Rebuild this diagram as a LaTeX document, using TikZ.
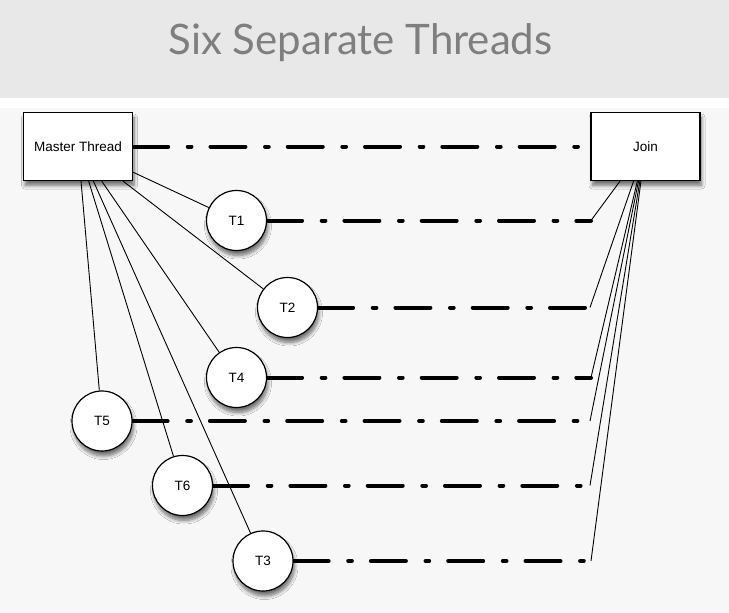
\documentclass[tikz,border=0pt]{standalone}
\usepackage{fontspec}
\setmainfont{Liberation Sans}
\newfontfamily\titlefont{Lato}
\usetikzlibrary{shadows.blur,backgrounds}
\definecolor{bandgray}{HTML}{E8E8E8}
\definecolor{bggray}{HTML}{F7F7F7}
\definecolor{titlegray}{HTML}{7F7F7F}
\begin{document}
\begin{tikzpicture}[x=1pt,y=-1pt,
  softshadow/.style={blur shadow={shadow xshift=1.5pt, shadow yshift=-5pt, shadow opacity=55, shadow blur steps=8, shadow blur radius=3.5pt}},
  box/.style={draw=black, line width=1.3pt, fill=white, minimum width=109pt, minimum height=68pt, inner sep=0pt, font=\fontsize{13.5}{15}\selectfont, softshadow},
  thread/.style={circle, draw=black, line width=1.2pt, fill=white, minimum size=60pt, inner sep=0pt, font=\fontsize{13.5}{15}\selectfont, softshadow},
  link/.style={line width=0.9pt},
  flow/.style={line width=4pt, line cap=round, dash pattern=on 35pt off 19.6pt on 3.7pt off 19pt}
]
\useasboundingbox (0,0) rectangle (729,613);

\node[font=\titlefont\fontsize{42}{48}\selectfont, text=titlegray, anchor=base] (title) at (360.5,54) {Six Separate Threads};

\node[box] (master) at (78,146.5) {Master Thread};
\node[box] (join) at (645.5,146.5) {Join};

\node[thread] (t1) at (236.5,220.5) {T1};
\node[thread] (t2) at (287.5,307.5) {T2};
\node[thread] (t4) at (236.5,377.5) {T4};
\node[thread] (t5) at (102,421) {T5};
\node[thread] (t6) at (182.5,485.5) {T6};
\node[thread] (t3) at (263,561) {T3};

\coordinate (e1) at (591,220.5);
\coordinate (e2) at (590,307.5);
\coordinate (e4) at (591,377.5);
\coordinate (e5) at (590,421);
\coordinate (e6) at (590,485.5);
\coordinate (e3) at (591,561);

\begin{scope}[on background layer]
\fill[bandgray] (0,0) rectangle (729,98);
\fill[white] (0,98) rectangle (729,108);
\fill[bggray] (0,108) rectangle (729,613);

\draw[flow] (master) -- (join);
\draw[flow] (t1) -- (e1);
\draw[flow] (t2) -- (e2);
\draw[flow] (t4) -- (e4);
\draw[flow] (t5) -- (e5);
\draw[flow] (t6) -- (e6);
\draw[flow] (t3) -- (e3);

\draw[link] (master) -- (t1);
\draw[link] (master) -- (t2);
\draw[link] (master) -- (t4);
\draw[link] (master) -- (t5);
\draw[link] (master) -- (t6);
\draw[link] (master) -- (t3);

\draw[link] (e1) -- (join);
\draw[link] (e2) -- (join);
\draw[link] (e4) -- (join);
\draw[link] (e5) -- (join);
\draw[link] (e6) -- (join);
\draw[link] (e3) -- (join);
\end{scope}
\end{tikzpicture}
\end{document}
